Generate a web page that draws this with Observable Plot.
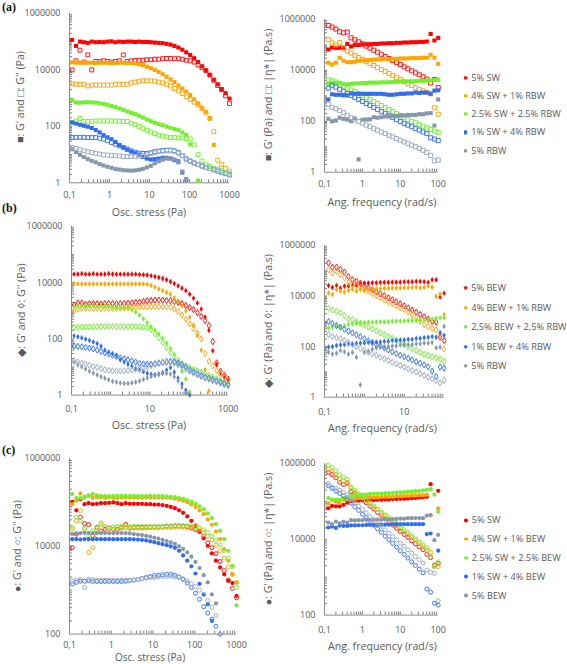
<!DOCTYPE html>
<html><head><meta charset="utf-8">
<script src="https://cdn.jsdelivr.net/npm/d3@7"></script>
<script src="https://cdn.jsdelivr.net/npm/@observablehq/plot@0.6"></script>
<style>
body{margin:0;background:#fff;}
#page{position:relative;width:567px;height:664px;overflow:hidden;font-family:"Open Sans",sans-serif;color:#595959;}
#page svg{position:absolute;overflow:visible;}
.yt{position:absolute;white-space:nowrap;transform:translate(-50%,-50%) rotate(-90deg);font-size:10.6px;line-height:1;}
.xt{position:absolute;white-space:nowrap;transform:translate(-50%,-50%);font-size:10.6px;line-height:1;}
.xt.low{font-size:10px;line-height:1;}
.tag{position:absolute;font-family:"Liberation Serif",serif;font-weight:bold;font-size:12px;color:#111;line-height:1;}
.leg{position:absolute;left:464px;transform:translateY(-50%);font-size:9.2px;white-space:nowrap;display:flex;align-items:center;line-height:1;}
.mk{display:inline-block;width:3.2px;height:3.2px;margin-right:4px;}
.mk.diamond{transform:rotate(45deg);width:3.2px;height:3.2px;}
.mk.circle{border-radius:50%;width:3.8px;height:3.8px;}
</style></head>
<body><div id="page"></div>
<script>
// ---------- x values ----------
const stress = [0.116,0.1455,0.1825,0.229,0.287,0.36,0.452,0.567,0.711,0.892,1.118,1.403,1.76,2.21,2.77,3.47,4.35,5.46,6.85,8.59,10.78,13.52,16.96,21.3,26.7,33.5,42,52.6,66,82.8,103.9,130.3,163.5,205,257,322,404,507,636,798,1000];
const freq = [0.126,0.158,0.2,0.251,0.316,0.398,0.501,0.631,0.794,1,1.26,1.58,2,2.51,3.16,3.98,5.01,6.31,7.94,10,12.6,15.8,20,25.1,31.6,39.8,50.1,63.1,79.4,100];

// ---------- legends ----------
const legendA = ["5% SW","4% SW + 1% RBW","2.5% SW + 2.5% RBW","1% SW + 4% RBW","5% RBW"];
const legendB = ["5% BEW","4% BEW + 1% RBW","2,5% BEW + 2,5% RBW","1% BEW + 4% RBW","5% RBW"];
const legendC = ["5% SW","4% SW + 1% BEW","2.5% SW + 2.5% BEW","1% SW + 4% BEW","5% BEW"];

// ---------- tick labels ----------
const yTicksAB = [1,100,10000,1000000];
const yTicksC = [100,10000,1000000];
const xTicksStress = [0.1,1,10,100,1000];
const xTicksStressB = [0.1,10,1000];
const xTicksFreq = [0.1,1,10,100];
const xTicksFreqB = [0.1,10];

// ---------- (a) left: stress sweep, G' (filled) and G'' (open) ----------
const aL_red_f = [116000,71000,101000,96000,91000,101000,96000,98000,96000,101000,103000,96000,101000,98000,101000,101000,98000,101000,98000,98000,96000,93000,91000,89000,84000,79000,71000,62000,52000,42000,34000,26000,19000,13500,9700,6600,4500,3100,2100,1500,960];
const aL_red_o = [10000,21000,50000,19000,34000,10000,20000,20000,21000,20000,19000,20000,21000,34000,20000,21000,21500,22000,22000,23000,23000,24000,24000,25000,25500,25500,25000,25000,24000,22000,21000,19000,15000,12000,9500,6600,4300,2800,2000,1200,640];
const aL_org_f = [18500,18000,18000,18500,18000,18000,17500,18000,18000,18000,18000,17500,18000,18000,17500,17500,17000,16000,14500,13000,11500,10000,8500,7000,5700,4600,3700,2800,2200,1700,1300,900,650,460,330,200,22,null,null,null,null];
const aL_org_o = [3200,3100,3100,3100,2700,2900,2900,2900,2900,2900,2900,3100,3100,3100,3100,3500,3700,4000,4100,4100,4100,4000,3700,3500,3100,2700,2200,1800,1450,1100,900,720,580,430,300,190,65,6.3,4.4,3.2,2.6];
const aL_grn_f = [850,700,690,710,720,710,690,660,620,580,530,480,430,385,340,300,270,235,205,175,152,134,120,110,98,89,80,74,61,50,23,null,1.2,null,null,null,null,null,null,null,null];
const aL_grn_o = [135,155,190,150,150,152,155,155,157,157,155,155,152,150,148,130,115,100,85,73,63,55,49,45,42,40,40,39,39,37,36,22,10,5.9,4.3,3.8,3.3,3.0,2.7,2.4,2.2];
const aL_blu_f = [138,126,114,105,97,87,74,61,49,41,35,28,22,18,14.8,12.8,11.2,10,8.3,7.2,6.7,6.9,7.2,7.7,7.7,7.2,6.3,5.8,2.3,1.3,null,null,null,null,null,null,null,null,null,null,null];
const aL_blu_o = [40,41,41,41,40,40,40,38,35,31,27,23.5,20.5,18,15.8,13.6,12.2,11.3,11,11,11.6,12.6,13.3,14,14.4,14.4,13.6,11.9,9.1,6.9,5.8,5.0,4.4,3.9,3.5,3.2,2.9,2.6,2.3,2.1,1.9];
const aL_gry_f = [15.5,12.3,9.8,8.1,6.9,6.0,5.3,4.6,4.1,3.7,3.4,3.1,2.95,2.8,2.75,2.7,2.75,2.9,3.1,3.5,4.0,4.9,5.8,6.6,7.2,7.4,6.7,5.3,2.5,1.35,null,null,null,null,null,null,null,null,null,null,null];
const aL_gry_o = [18,16.6,14.8,13.6,12.6,11.9,11,10.4,9.8,9.6,9.3,9.1,8.9,8.6,8.4,8.4,8.6,8.9,9.3,9.8,10.7,11.6,12.6,13.3,13.6,13.6,13,11.3,9.3,7.5,6.0,5.2,4.5,4.0,3.5,3.2,2.9,2.6,2.4,2.2,2.0];

// ---------- (a) right: frequency sweep, G' (filled) and |eta*| (open) ----------
const aR_red_f = [66000,79000,77000,77000,79000,110000,87000,100000,100000,104000,107000,107000,110000,110000,114000,114000,117000,117000,121000,121000,125000,125000,128000,128000,132000,132000,136000,270000,150000,190000];
const aR_red_o = [580000,500000,420000,330000,300000,320000,190000,159000,132000,111000,90000,75000,62000,52000,43000,35000,29000,24500,20400,17000,13800,11500,9600,8000,6700,5600,4500,3200,4400,2100];
const aR_org_f = [20000,17000,20000,31000,24000,21000,21000,22000,24000,24500,25000,26000,26000,27000,27000,28000,28000,28500,28500,29500,29500,29500,30500,30500,30500,31500,31500,41000,31500,18000];
const aR_org_o = [163000,121000,100000,125000,70000,57000,48000,39000,32000,27000,22000,18500,15500,13000,10800,9100,7500,6300,5200,4400,3600,3000,2550,2100,1800,1580,1350,1200,340,190];
const aR_grn_f = [2950,3200,3200,3250,2950,2800,2950,3050,3100,3200,3200,3300,3300,3300,3400,3400,3400,3550,3550,3650,3650,3650,3750,3750,3900,3900,4000,4000,4200,4300];
const aR_grn_o = [4300,3900,3500,2900,2400,2000,1700,1500,1240,1030,850,720,600,500,420,350,290,240,200,170,140,117,100,87,74,64,55,48,41,36];
const aR_blu_f = [720,1150,1100,1100,1050,1050,1250,1200,1200,1200,1200,1200,1200,1200,1200,1150,1100,1100,1150,1200,1200,1250,1250,1350,1300,1350,1350,1200,1600,1650];
const aR_blu_o = [2000,2600,2200,1800,1500,1230,1020,850,720,600,500,420,350,290,240,200,170,140,117,98,82,71,61,52,45,38,33,22.5,20,17.5];
const aR_gry_f = [125,100,107,138,125,117,100,130,3.2,115,117,120,145,138,145,155,155,160,160,170,170,178,178,178,190,190,205,210,68,720];
const aR_gry_o = [460,355,310,265,220,170,138,115,98,85,71,61,52,45,38,33,28,24.5,21,18,15.5,13.5,11.5,10,8.5,7.3,6,4.5,2.8,3.0];

// ---------- (b) left ----------
const bL_red_f = [20000,20000,21000,20000,20000,21000,20000,20000,20000,21000,20000,20000,20000,20000,20000,20000,20000,19500,19000,18500,17500,16500,15300,14100,12600,11000,9300,7700,6400,5200,3900,2800,1900,1150,600,200,38,12,6,4.5,3.5];
const bL_red_o = [1600,1900,1900,1700,1800,1800,1800,1750,1800,1800,1800,1750,1800,1800,1850,1900,2000,2000,2150,2300,2300,2400,2400,2400,2300,2300,2150,2000,1800,1550,1300,1100,850,630,450,300,80,14,7,5,3.7];
const bL_org_f = [9400,9000,9000,9000,9000,9000,9000,9000,9000,9000,9000,9000,9000,9000,9000,9000,9000,9000,9000,8700,8000,7000,6000,5200,4500,3900,2900,2100,1500,1000,600,310,130,40,8,1.4,null,null,null,null,null];
const bL_org_o = [1000,1150,1230,1230,1230,1200,1230,1230,1230,1230,1230,1230,1230,1250,1280,1300,1330,1380,1380,1380,1380,1380,1380,1380,1380,1350,1150,950,700,500,340,230,160,100,30,16,11,7.5,5.3,4.2,3.4];
const bL_grn_f = [1380,1500,1500,1450,1500,1500,1450,1500,1480,1450,1380,1300,1300,1300,1300,1100,900,700,520,380,270,200,150,105,70,45,28,14,7,3.7,1.3,null,null,null,null,null,null,null,null,null,null];
const bL_grn_o = [260,265,265,265,270,270,270,275,275,275,275,275,275,270,270,275,275,270,260,255,215,150,110,75,50,32,22,17,13,11,9.5,8.3,7.3,6.4,5.6,4.9,4.3,3.8,3.3,2.9,2.5];
const bL_blu_f = [129,118,108,98,88,78,68,55,40,34,30,26,18,15,12.5,10.5,9,7.8,6.8,6,5.4,5.3,5.6,6.4,7.8,9.5,6.5,4,2.5,1.5,1.0,null,null,null,null,null,null,null,null,null,null];
const bL_blu_o = [56,54,52,50,47,44,40,36,32,29,26,24,21,19.5,18,16.5,15,13.5,12.8,12.6,12.6,13,14,14.5,15.5,16,15.5,14,12,10,8,6.8,5.8,5,4.4,4,3.6,3.2,2.9,2.6,2.4];
const bL_gry_f = [14.5,12,10,8.5,7,6,5.2,4.5,4,3.5,3.1,2.9,2.7,2.6,2.6,2.7,2.9,3.2,3.6,4.1,4.6,5,5.4,5.7,5.9,5.6,4.5,3.2,1.9,1.2,null,null,null,null,null,null,null,null,null,null,null];
const bL_gry_o = [16.6,15,13.5,12.5,11.5,10.5,9.6,8.7,8,7.6,7.3,7.2,7.2,7.3,7.5,7.8,8.2,8.7,9.4,10.2,11.2,12.2,13.2,14,14.5,14.5,13.5,12,10,8.3,7,6,5.2,4.5,4,3.6,3.2,2.9,2.6,2.3,2.1];

// ---------- (b) right ----------
const bR_red_f = [26000,22000,26000,20500,24500,25000,26000,27500,30000,32500,32500,33500,33500,34500,34500,34500,35500,35500,35500,36500,36500,36500,38000,38000,36500,34500,44000,44000,9100,13000];
const bR_red_o = [205000,138000,138000,112000,89000,59000,44000,39000,32000,25000,21000,17700,14800,12300,10300,8500,7100,5900,4900,4100,3400,2800,2300,1850,1500,1220,1000,940,235,175];
const bR_org_f = [13000,11500,17800,15600,14200,16500,18600,15600,18000,16500,18000,18600,19500,19500,20000,20000,20700,20700,20700,21500,21500,22000,22500,21500,22000,25000,22500,9600,12000,1850];
const bR_org_o = [110000,81000,96000,69000,53000,35000,30000,26000,22000,18000,15200,12600,10500,8700,7200,6000,5100,4200,3500,2950,2300,1800,1380,1030,750,630,520,460,300,82];
const bR_grn_f = [550,590,630,590,660,750,820,870,890,890,930,930,930,960,960,960,1000,1000,1030,1030,1060,1080,1080,1120,1140,1180,1220,1300,1380,1400];
const bR_grn_o = [3300,2850,2500,2200,1700,1250,1150,960,820,700,610,500,420,350,300,245,210,175,145,120,100,84,70,59,50,45,40,36,32,26];
const bR_blu_f = [96,100,110,117,120,125,130,135,138,140,145,145,152,152,160,160,175,175,183,183,195,195,210,210,225,235,250,235,360,280];
const bR_blu_o = [980,820,680,590,490,410,350,295,245,205,170,145,120,105,88,74,62,53,46,40,34,29.5,25,22,19,16,10.7,6.6,15.5,14];
const bR_gry_f = [60,51,55,70,62,51,59,38,3.1,59,66,79,89,95,100,102,107,107,115,115,120,120,129,129,138,138,145,90,95,630];
const bR_gry_o = [300,250,225,205,175,145,120,100,85,71,60,52,45,38,33,28,24,21,18,15.5,13.2,11.5,10,8.5,7.3,6.2,5.4,4.6,3.7,4.6];

// ---------- (c) left ----------
const cL_red_f = [103000,66000,118000,91000,96000,91000,93000,96000,96000,98000,100000,96000,91000,96000,93000,93000,93000,93000,91000,91000,89000,89000,87000,83000,79000,74000,66000,58000,48000,38000,29500,21500,15200,10300,6900,4700,3300,2300,1630,1450,740];
const cL_red_o = [9300,19000,46000,33000,31000,17400,27000,22400,24500,26000,24500,24000,27000,31500,26000,27000,27000,27000,27300,27300,27700,27700,28200,28800,28800,29500,29500,28800,27700,26000,24000,21600,17000,12000,9300,6800,4500,2800,1700,1100,670];
const cL_org_f = [91000,109000,159000,129000,144000,127000,131000,129000,127000,131000,129000,127000,131000,129000,128000,130000,129000,127000,130000,129000,128000,129000,127000,128000,126000,121000,115000,109000,101000,91000,79000,66000,54000,41000,31000,21500,14600,8600,4700,2300,1500];
const cL_org_o = [24500,38000,65000,24000,7200,9300,22400,34000,27700,26000,24500,27000,26000,26000,26000,26000,26000,26000,26000,26500,26500,26500,27000,27000,27000,27500,27500,27500,27000,27700,26000,23500,20500,17000,13800,10700,7900,5400,3400,2300,1500];
const cL_grn_f = [155000,125000,125000,135000,139000,155000,144000,139000,139000,139000,139000,139000,141000,139000,139000,141000,139000,139000,139000,141000,139000,139000,139000,136000,134000,132000,126000,121000,112000,103000,93000,81000,69000,56000,44000,32000,22400,14600,7900,3600,450];
const cL_grn_o = [27000,46000,38000,26000,17800,22400,26000,31000,27700,27000,27700,28200,28200,28200,28200,28200,28200,28200,28200,28200,28200,28200,28200,28200,29000,29000,29500,29500,29500,28800,27700,26000,23500,20500,17000,13800,10700,7900,5400,3400,1150];
const cL_blu_f = [14500,14500,14300,14600,14500,14400,14500,14500,14500,14500,14500,14500,14500,14500,14500,14400,14200,14000,13600,13000,12400,11800,11200,10600,10000,9200,7900,6200,4700,3500,2400,1400,800,480,200,null,null,null,null,null,null];
const cL_blu_o = [1380,1510,1600,1600,1630,1580,1580,1580,1580,1580,1580,1580,1580,1600,1650,1700,1750,1850,1950,2050,2150,2200,2250,2300,2300,2200,2000,1750,1450,1150,850,620,420,300,220,150,100,null,null,null,null];
const cL_gry_f = [19000,19600,20000,20300,20000,20000,20000,20000,20000,20000,20000,20000,20000,20000,19600,19000,18500,18000,17300,16600,15800,15000,14000,13200,12300,11300,10000,8700,7300,5800,4400,3200,2200,1500,800,500,null,null,null,null,null];
const cL_gry_o = [1620,1700,1750,1150,1780,1750,1700,1700,1700,1700,1700,1700,1700,1700,1700,1700,1750,1820,1880,1950,1950,2000,2050,2050,2050,2000,1950,1820,1620,1400,1220,1000,790,580,410,265,100,null,null,null,null];

// ---------- (c) right ----------
const cR_red_f = [66000,76000,74000,74000,81000,92000,102000,104000,104000,106000,106000,108000,108000,110000,110000,112000,112000,115000,115000,117000,117000,119000,121000,123000,126000,128000,132000,285000,null,190000];
const cR_red_o = [580000,510000,420000,320000,280000,310000,182000,162000,135000,112000,92000,75000,63000,51000,43000,35000,29000,23700,19600,16100,13400,11200,9100,7600,6300,5300,4000,3300,2100,2300];
const cR_org_f = [89000,108000,98000,94000,112000,117000,117000,117000,122000,122000,127000,127000,127000,127000,132000,132000,132000,132000,137000,137000,140000,140000,144000,144000,146000,146000,149000,43000,null,66000];
const cR_org_o = [710000,600000,500000,380000,350000,285000,220000,180000,150000,124000,104000,87000,72000,60000,49000,41000,34000,28000,23000,19300,16100,13400,11200,9300,7800,6300,5200,4500,1900,1900];
const cR_grn_f = [122000,112000,112000,110000,122000,132000,137000,144000,147000,150000,152000,155000,158000,158000,161000,165000,165000,168000,172000,172000,175000,178000,182000,186000,190000,195000,202000,210000,150000,54000];
const cR_grn_o = [900000,790000,640000,500000,430000,380000,240000,195000,158000,132000,110000,91000,76000,63000,53000,44000,37000,31000,26000,21500,18000,15000,12400,10300,8600,7100,6000,3500,2000,2550];
const cR_blu_f = [20500,21500,20000,23000,22500,22500,23200,23200,23500,23500,24000,24000,24000,24000,24300,24300,24300,25000,25000,25000,25000,25000,25000,25000,25000,25000,13700,14200,null,5000];
const cR_blu_o = [257000,220000,187000,162000,141000,110000,90000,72000,58000,46000,37000,29500,23500,19000,15200,12100,9700,7800,6200,5000,4000,3200,2550,2050,1630,1300,490,400,205,183];
const cR_gry_f = [27700,25000,29500,26200,29000,27700,32000,31500,32000,32000,32700,32700,33000,33000,33000,33500,33500,34000,34500,35000,35000,36000,36000,36500,36500,36000,42000,43500,9500,13100];
const cR_gry_o = [296000,240000,220000,198000,172000,150000,112000,91000,75000,61000,50000,40000,32500,27000,22000,17800,14500,11800,9700,7900,6500,5300,4300,3500,2900,2350,1540,1350,1260,240];

// ---------- styling ----------
const fillColors = ["#ff0000","#ffa500","#72ef2d","#2f6df0","#8797ab"];
const openColors = ["#ff1a1a","#ffa91a","#7af03a","#3a78f5","#9eadc2"];

const page = document.getElementById("page");
const fmt = d => d === 0.1 ? "0,1" : d3.format("d")(d);

function minorTicks(lo, hi) {
  const out = [];
  for (let e = Math.round(Math.log10(lo)); e < Math.round(Math.log10(hi)); e++)
    for (let m = 1; m <= 9; m++) { const v = m * Math.pow(10, e); if (v > lo && v < hi) out.push(v); }
  return out;
}

function series(x, f, o) {
  return {f: x.map((v, i) => ({x: v, y: f[i]})).filter(d => d.y != null),
          o: x.map((v, i) => ({x: v, y: o[i]})).filter(d => d.y != null)};
}

function drawPanel(p) {
  const W = p.x1 - p.x0, H = p.y1 - p.y0;
  const left = p.x0 - 72, top = p.y0 - 12;
  const width = p.x1 - left + 14, height = p.y1 - top + 28;
  const marks = [
    Plot.tickY(minorTicks(p.yDomain[0], p.yDomain[1]), {y: d => d, stroke: "#5a5a5a", strokeWidth: 0.8, insetRight: W - 3}),
    Plot.tickX(minorTicks(p.xDomain[0], p.xDomain[1]), {x: d => d, stroke: "#5a5a5a", strokeWidth: 0.8, insetTop: H - 3}),
    Plot.ruleX([p.xDomain[0]], {stroke: "#8a8a8a", strokeWidth: 1}),
    Plot.ruleY([p.yDomain[0]], {stroke: "#8a8a8a", strokeWidth: 1}),
    Plot.axisY({ticks: p.yTicks, tickSize: 0, tickPadding: 9, tickFormat: fmt, label: null}),
    Plot.axisX({ticks: p.xTicks, tickSize: 0, tickPadding: p.xPad, tickFormat: fmt, label: null})
  ];
  p.data.forEach((s, k) => {
    marks.push(Plot.dot(s.f, {x: "x", y: "y", symbol: p.symbol, r: p.rf, fill: fillColors[k], stroke: "none"}));
    marks.push(Plot.dot(s.o, {x: "x", y: "y", symbol: p.symbol, r: p.ro, fill: "none", stroke: openColors[k], strokeWidth: 1}));
  });
  const svg = Plot.plot({
    width, height,
    marginLeft: p.x0 - left, marginRight: width - (p.x1 - left),
    marginTop: p.y0 - top, marginBottom: height - (p.y1 - top),
    x: {type: "log", domain: p.xDomain},
    y: {type: "log", domain: p.yDomain},
    style: {background: "transparent", fontFamily: "Open Sans", fontSize: "9px", color: "#595959", overflow: "visible"},
    marks
  });
  svg.style.left = left + "px";
  svg.style.top = top + "px";
  page.appendChild(svg);
}

function addText(cls, txt, x, y) {
  const d = document.createElement("div");
  d.className = cls; d.textContent = txt;
  d.style.left = x + "px"; d.style.top = y + "px";
  page.appendChild(d);
}

function addLegend(labels, shape, y0, dy) {
  labels.forEach((lab, k) => {
    const row = document.createElement("div");
    row.className = "leg";
    row.style.top = (y0 + k * dy) + "px";
    const mk = document.createElement("span");
    mk.className = "mk " + shape;
    mk.style.background = fillColors[k];
    const t = document.createElement("span");
    t.textContent = lab;
    row.appendChild(mk); row.appendChild(t);
    page.appendChild(row);
  });
}

// ---------- panels ----------
drawPanel({x0: 69, x1: 229, y0: 12.7, y1: 182, xDomain: [0.1, 1000], yDomain: [1, 1e6], xTicks: xTicksStress, yTicks: yTicksAB, xPad: 9, symbol: "square", rf: 2.3, ro: 2.2,
  data: [series(stress, aL_red_f, aL_red_o), series(stress, aL_org_f, aL_org_o), series(stress, aL_grn_f, aL_grn_o), series(stress, aL_blu_f, aL_blu_o), series(stress, aL_gry_f, aL_gry_o)]});
drawPanel({x0: 324, x1: 437.7, y0: 19, y1: 171.7, xDomain: [0.1, 100], yDomain: [1, 1e6], xTicks: xTicksFreq, yTicks: yTicksAB, xPad: 8, symbol: "square", rf: 2.3, ro: 2.3,
  data: [series(freq, aR_red_f, aR_red_o), series(freq, aR_org_f, aR_org_o), series(freq, aR_grn_f, aR_grn_o), series(freq, aR_blu_f, aR_blu_o), series(freq, aR_gry_f, aR_gry_o)]});
drawPanel({x0: 71, x1: 227.7, y0: 225.7, y1: 394.3, xDomain: [0.1, 1000], yDomain: [1, 1e6], xTicks: xTicksStressB, yTicks: yTicksAB, xPad: 10.5, symbol: "diamond", rf: 1.75, ro: 1.9,
  data: [series(stress, bL_red_f, bL_red_o), series(stress, bL_org_f, bL_org_o), series(stress, bL_grn_f, bL_grn_o), series(stress, bL_blu_f, bL_blu_o), series(stress, bL_gry_f, bL_gry_o)]});
drawPanel({x0: 323.7, x1: 443.3, y0: 245, y1: 396.7, xDomain: [0.1, 100], yDomain: [1, 1e6], xTicks: xTicksFreqB, yTicks: yTicksAB, xPad: 11.8, symbol: "diamond", rf: 1.75, ro: 1.9,
  data: [series(freq, bR_red_f, bR_red_o), series(freq, bR_org_f, bR_org_o), series(freq, bR_grn_f, bR_grn_o), series(freq, bR_blu_f, bR_blu_o), series(freq, bR_gry_f, bR_gry_o)]});
drawPanel({x0: 68.5, x1: 235.5, y0: 457.7, y1: 633.3, xDomain: [0.1, 1000], yDomain: [100, 1e6], xTicks: xTicksStress, yTicks: yTicksC, xPad: 7.6, symbol: "circle", rf: 2.1, ro: 2.0,
  data: [series(stress, cL_red_f, cL_red_o), series(stress, cL_org_f, cL_org_o), series(stress, cL_grn_f, cL_grn_o), series(stress, cL_blu_f, cL_blu_o), series(stress, cL_gry_f, cL_gry_o)]});
drawPanel({x0: 324, x1: 437.7, y0: 462.7, y1: 614.3, xDomain: [0.1, 100], yDomain: [100, 1e6], xTicks: xTicksFreq, yTicks: yTicksC, xPad: 11.8, symbol: "circle", rf: 2.1, ro: 2.0,
  data: [series(freq, cR_red_f, cR_red_o), series(freq, cR_org_f, cR_org_o), series(freq, cR_grn_f, cR_grn_o), series(freq, cR_blu_f, cR_blu_o), series(freq, cR_gry_f, cR_gry_o)]});

// ---------- axis titles ----------
addText("xt", "Osc. stress (Pa)", 149, 211.7);
addText("xt", "Ang. frequency (rad/s)", 382, 202);
addText("xt", "Osc. stress (Pa)", 149, 425);
addText("xt", "Ang. frequency (rad/s)", 382.5, 427.5);
addText("xt low", "Osc. stress (Pa)", 150, 657);
addText("xt", "Ang. frequency (rad/s)", 382.5, 646);
addText("yt", "\u25A0: G' and \u25A1: G'' (Pa)", 20, 97.3);
addText("yt", "\u25A0: G' (Pa) and \u25A1: |\u03B7*| (Pa.s)", 268, 95.3);
addText("yt", "\u25C6: G' and \u25CA: G'' (Pa)", 20.5, 310);
addText("yt", "\u25C6: G' (Pa) and \u25CA: |\u03B7*| (Pa.s)", 268, 321);
addText("yt", "\u25CF: G' and \u25CB: G'' (Pa)", 17, 545.5);
addText("yt", "\u25CF: G' (Pa) and \u25CB: |\u03B7*| (Pa.s)", 268, 538.5);
addText("tag", "(a)", 2, 1);
addText("tag", "(b)", 2, 202);
addText("tag", "(c)", 2, 444);

// ---------- legends ----------
addLegend(legendA, "square", 77.5, 18.3);
addLegend(legendB, "diamond", 288.3, 19.4);
addLegend(legendC, "circle", 520, 18.9);
</script>
</body></html>
